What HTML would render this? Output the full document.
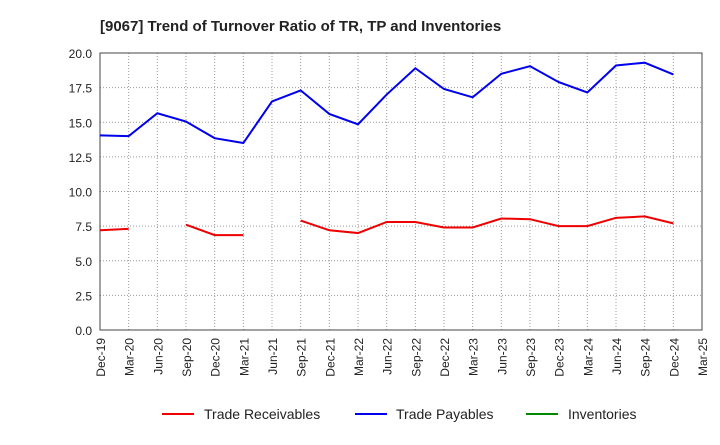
<!DOCTYPE html>
<html><head><meta charset="utf-8"><style>
body{margin:0;background:#fff;font-family:"Liberation Sans",sans-serif;}
</style></head><body>
<svg id="c" width="720" height="440" xmlns="http://www.w3.org/2000/svg">
<text x="100" y="31" font-size="15" font-weight="bold" fill="#222">[9067]  Trend of Turnover Ratio of TR, TP and Inventories</text>
<g id="grid"></g><g id="axes"></g><g id="series"></g>
<g>
<line x1="162" y1="414" x2="194" y2="414" stroke="#e00" stroke-width="2"/>
<text x="204" y="419" font-size="14" fill="#222">Trade Receivables</text>
<line x1="355" y1="414" x2="387" y2="414" stroke="#00e" stroke-width="2"/>
<text x="396" y="419" font-size="14" fill="#222">Trade Payables</text>
<line x1="526" y1="414" x2="558" y2="414" stroke="#080" stroke-width="2"/>
<text x="568" y="419" font-size="14" fill="#222">Inventories</text>
</g>
</svg>
<script>
const categories=["Dec-19","Mar-20","Jun-20","Sep-20","Dec-20","Mar-21","Jun-21","Sep-21","Dec-21","Mar-22","Jun-22","Sep-22","Dec-22","Mar-23","Jun-23","Sep-23","Dec-23","Mar-24","Jun-24","Sep-24","Dec-24","Mar-25"];
const payables=[14.05,14.0,15.65,15.05,13.85,13.5,16.5,17.3,15.6,14.85,17.0,18.9,17.4,16.8,18.5,19.05,17.9,17.15,19.1,19.3,18.45,null];
const receivables=[7.2,7.3,null,7.6,6.85,6.85,null,7.9,7.2,7.0,7.8,7.8,7.4,7.4,8.05,8.0,7.5,7.5,8.1,8.2,7.7,null];
const inventories=[];
const yTicks=["0.0","2.5","5.0","7.5","10.0","12.5","15.0","17.5","20.0"];
const L=100,R=702,T=53,B=330,YMAX=20;
const ns="http://www.w3.org/2000/svg";
const xs=i=>L+i*(R-L)/(categories.length-1);
const ys=v=>B-v/YMAX*(B-T);
function mk(t,a,p){const e=document.createElementNS(ns,t);for(const k in a)e.setAttribute(k,a[k]);p.appendChild(e);return e;}
const g=document.getElementById('grid'),ax=document.getElementById('axes'),s=document.getElementById('series');
categories.forEach((c,i)=>{
 const l=mk('line',{x1:xs(i),x2:xs(i),y1:T,y2:B,stroke:'#999','stroke-dasharray':'1,2','stroke-width':1},g);
 
 
 const x=xs(i);
 const t=mk('text',{x:x+5,y:B+8,'font-size':12,fill:'#222','text-anchor':'end',transform:`rotate(-90 ${x+5} ${B+8})`},ax);
 t.textContent=c;
 
 
});
yTicks.forEach(v=>{
 const y=ys(parseFloat(v));
 const l=mk('line',{x1:L,x2:R,y1:y,y2:y,stroke:'#999','stroke-dasharray':'1,2','stroke-width':1},g);
 
 
 const t=mk('text',{x:L-8,y:y+5,'font-size':12,fill:'#222','text-anchor':'end'},ax);
 t.textContent=v;
 
 
});
const fr=mk('rect',{x:L,y:T,width:R-L,height:B-T,fill:'none',stroke:'#444','stroke-width':1},ax);


function line(arr,col,name){
 let d='',pen=false;
 arr.forEach((v,i)=>{if(v==null){pen=false;return;}d+=(pen?'L':'M')+xs(i)+' '+ys(v)+' ';pen=true;});
 if(!d)return;
 const p=mk('path',{d:d,fill:'none',stroke:col,'stroke-width':2},s);
 
 
}
line(receivables,'#e00','trade-receivables-line');
line(payables,'#00e','trade-payables-line');
line(inventories,'#080','inventories-line');
</script>
</body></html>
